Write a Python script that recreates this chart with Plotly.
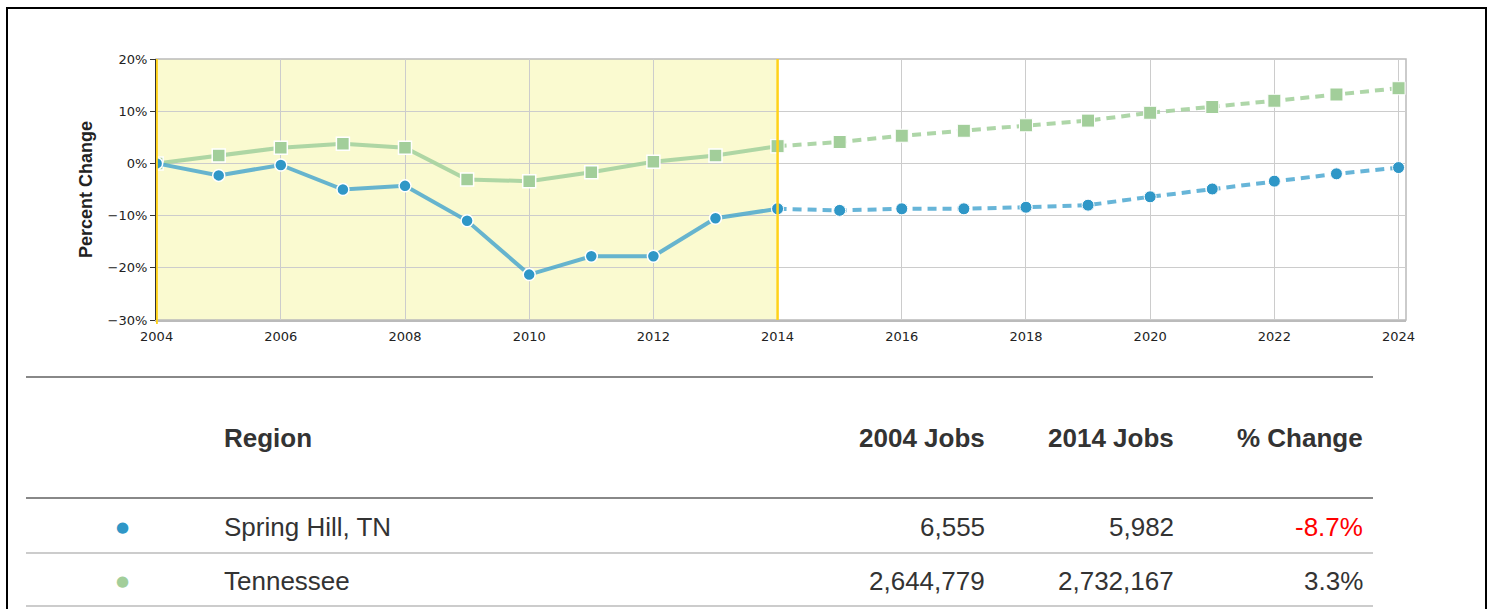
import plotly.graph_objects as go

# ---------------- data ----------------
years = list(range(2004, 2025))
spring_hill = [0.0, -2.3, -0.3, -5.0, -4.3, -11.0, -21.3, -17.8, -17.8, -10.5, -8.7,
               -9.0, -8.7, -8.7, -8.4, -8.0, -6.4, -4.9, -3.4, -2.0, -0.8]
tennessee = [0.0, 1.5, 3.0, 3.75, 3.0, -3.1, -3.4, -1.7, 0.3, 1.5, 3.3,
             4.1, 5.3, 6.25, 7.3, 8.2, 9.7, 10.8, 12.0, 13.2, 14.4]
split_year = 2014
y_ticks = [-30, -20, -10, 0, 10, 20]
y_tick_labels = ["\u221230%", "\u221220%", "\u221210%", "0%", "10%", "20%"]
x_ticks = list(range(2004, 2025, 2))

regions = ["Spring Hill, TN", "Tennessee"]
jobs_2004 = ["6,555", "2,644,779"]
jobs_2014 = ["5,982", "2,732,167"]
pct_change = ["-8.7%", "3.3%"]
table_headers = ["Region", "2004 Jobs", "2014 Jobs", "% Change"]

# ---------------- styles ----------------
BLUE_LINE = "rgba(60,160,205,0.78)"
BLUE_MARK = "#2F97C7"
GREEN_LINE = "rgba(165,210,158,0.9)"
GREEN_MARK = "#A2CE9A"
GOLD = "#FFD21A"
TEXT = "#333333"

W, H = 1494, 609
L, R, T, B = 156, 88, 59, 289
PW, PH = W - L - R, H - T - B


def px(x):
    return (x - L) / PW


def py(y):
    return (H - B - y) / PH


split = years.index(split_year)
fig = go.Figure()


def add_series(vals, line_color, mark_color, symbol, size):
    fig.add_trace(go.Scatter(
        x=years[:split + 1], y=vals[:split + 1], mode="lines+markers",
        line=dict(color=line_color, width=4),
        marker=dict(symbol=symbol, size=size, color=mark_color,
                    line=dict(color="white", width=1.5)),
        hoverinfo="skip", showlegend=False))
    fig.add_trace(go.Scatter(
        x=years[split:], y=vals[split:], mode="lines+markers",
        line=dict(color=line_color, width=4, dash="9px,6px"),
        marker=dict(symbol=symbol, size=size, color=mark_color,
                    line=dict(color="white", width=1)),
        hoverinfo="skip", showlegend=False))


add_series(tennessee, GREEN_LINE, GREEN_MARK, "square", 13)
add_series(spring_hill, BLUE_LINE, BLUE_MARK, "circle", 12)

shapes = []
# historic highlight band
shapes.append(dict(type="rect", xref="x", yref="paper", x0=years[0], x1=split_year,
                   y0=0, y1=1, fillcolor="#FAFAD0", line_width=0, layer="below"))
# gold vertical lines
for xv in (years[0], split_year):
    shapes.append(dict(type="line", xref="x", yref="paper", x0=xv, x1=xv,
                       y0=-0.015 if xv == years[0] else 0, y1=1,
                       line=dict(color=GOLD, width=2.5), layer="above"))
# plot frame (top/right)
shapes.append(dict(type="rect", xref="paper", yref="paper", x0=0, x1=1, y0=0, y1=1,
                   line=dict(color="#BBBBBB", width=1.5), layer="below"))
# outer black border
shapes.append(dict(type="rect", xref="paper", yref="paper",
                   x0=px(7), x1=px(1486), y0=py(8), y1=py(640),
                   line=dict(color="black", width=2)))
# table lines
tl, tr = px(26), px(1373)
for ypix, col in ((377, "#888888"), (498, "#888888"), (553, "#CCCCCC"), (606, "#CCCCCC")):
    shapes.append(dict(type="line", xref="paper", yref="paper", x0=tl, x1=tr,
                       y0=py(ypix), y1=py(ypix), line=dict(color=col, width=2)))

annotations = []
FONT = "Liberation Sans, Arial, sans-serif"
header_x = [(222, "left"), (987, "right"), (1176, "right"), (1365, "right")]
for (hx, anc), txt in zip(header_x, table_headers):
    annotations.append(dict(xref="paper", yref="paper", x=px(hx), y=py(438),
                            xanchor=anc, yanchor="middle", showarrow=False,
                            text="<b>" + txt + "</b>",
                            font=dict(family=FONT, size=26, color=TEXT)))
row_y = [527, 581]
dot_colors = [BLUE_MARK, GREEN_MARK]
for i in range(len(regions)):
    ry = py(row_y[i])
    annotations.append(dict(xref="paper", yref="paper", x=px(122), y=ry,
                            xanchor="center", yanchor="middle", showarrow=False,
                            text="●", font=dict(family="DejaVu Sans", size=15,
                                                color=dot_colors[i])))
    cells = [regions[i], jobs_2004[i], jobs_2014[i], pct_change[i]]
    for j, ((hx, anc), txt) in enumerate(zip(header_x, cells)):
        color = TEXT
        if j == 3 and txt.startswith("-"):
            color = "#FF0000"
        annotations.append(dict(xref="paper", yref="paper", x=px(hx), y=ry,
                                xanchor=anc, yanchor="middle", showarrow=False,
                                text=txt,
                                font=dict(family=FONT, size=26, color=color)))

fig.update_layout(
    width=W, height=H,
    margin=dict(l=L, r=R, t=T, b=B, pad=0),
    paper_bgcolor="white", plot_bgcolor="white",
    shapes=shapes, annotations=annotations,
    xaxis=dict(range=[2003.99, 2024.12], tickvals=x_ticks,
               ticktext=[str(v) for v in x_ticks],
               showgrid=True, gridcolor="#CCCCCC", gridwidth=1,
               zeroline=False, showline=True, linecolor="#BBBBBB", linewidth=1.5,
               ticks="outside", ticklen=4, tickcolor="rgba(0,0,0,0)",
               tickfont=dict(family="DejaVu Sans", size=13, color="#222"),
               fixedrange=True),
    yaxis=dict(range=[-30, 20], tickvals=y_ticks, ticktext=y_tick_labels,
               showgrid=True, gridcolor="#CCCCCC", gridwidth=1,
               zeroline=False, showline=True, linecolor="#333333", linewidth=1,
               ticks="outside", ticklen=5, tickcolor="#333333",
               tickfont=dict(family="DejaVu Sans", size=13, color="#222"),
               title=dict(text="<b>Percent Change</b>", standoff=10,
                          font=dict(family=FONT, size=18, color="#222")),
               fixedrange=True),
)

fig.write_html("out.html", config={"displayModeBar": False},
               post_script="document.body.style.margin='0';document.body.style.overflow='hidden';")
